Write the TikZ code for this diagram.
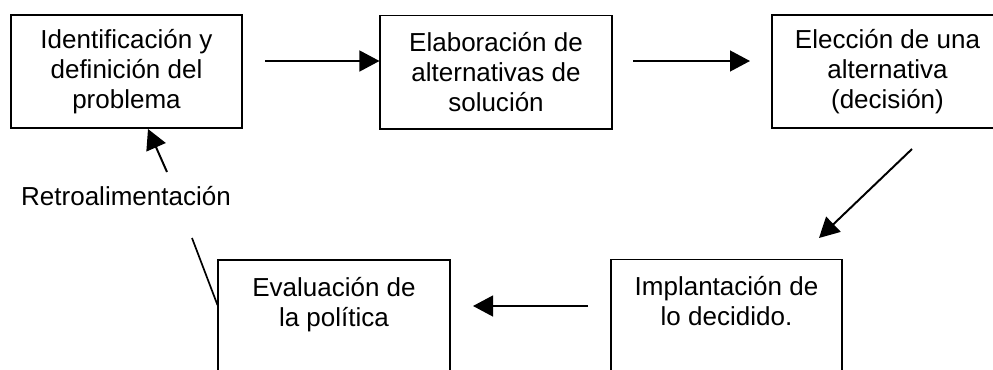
\documentclass[tikz,border=0pt]{standalone}
\usepackage{fontspec}
\setmainfont{Liberation Sans}
\usepackage{tikz}
\usetikzlibrary{arrows.meta}

\begin{document}
\begin{tikzpicture}[x=0.025cm, y=-0.025cm,
        every node/.style={font=\fontsize{18.5}{21.3}\selectfont}]
        \tikzstyle{boxStyle} = [rectangle,draw=black,line width=1.4pt,fill=white,
            minimum width=5.775cm,minimum height=2.825cm,align=center,inner sep=0pt]
        \tikzstyle{arrowEdge} = [draw=black, line width=1.4pt,
            -{Triangle[length=0.5cm,width=0.52cm]}]
        \tikzstyle{plainEdge} = [draw=black, line width=1.2pt]
        \clip (0,0) rectangle (993,369);
        \node[boxStyle] (ident) at (126.5,71.5) {Identificación y\\definición del\\problema};
        \node[boxStyle] (elab) at (496,72) {Elaboración de\\alternativas de\\solución};
        \node[boxStyle] (elec) at (887.5,71.5) {Elección de una\\alternativa\\(decisión)};
        \node[boxStyle] (impl) at (726.5,316) {Implantación de\\lo decidido.\\\mbox{}};
        \node[boxStyle] (eval) at (334,316.5) {Evaluación de\\la política\\\mbox{}};
        \node (retro) at (126,196) {Retroalimentación};
        \coordinate (identOut) at (265,61);
        \coordinate (elabOut) at (633,61);
        \coordinate (elecIn) at (750,61);
        \coordinate (elecOut) at (912,149);
        \coordinate (implIn) at (819,238);
        \coordinate (implOut) at (588,306);
        \coordinate (evalIn) at (473,306);
        \coordinate (retroOut) at (167,172);
        \coordinate (retroIn) at (192,238);
        \path (identOut) edge[arrowEdge] (elab.west |- identOut);
        \path (elabOut) edge[arrowEdge] (elecIn);
        \path (elecOut) edge[arrowEdge] (implIn);
        \path (implOut) edge[arrowEdge] (evalIn);
        \path (retroOut) edge[arrowEdge] (ident.south -| 148,0);
        \path (retroIn) edge[plainEdge] (eval.west |- 0,305);
    \end{tikzpicture}
\end{document}
